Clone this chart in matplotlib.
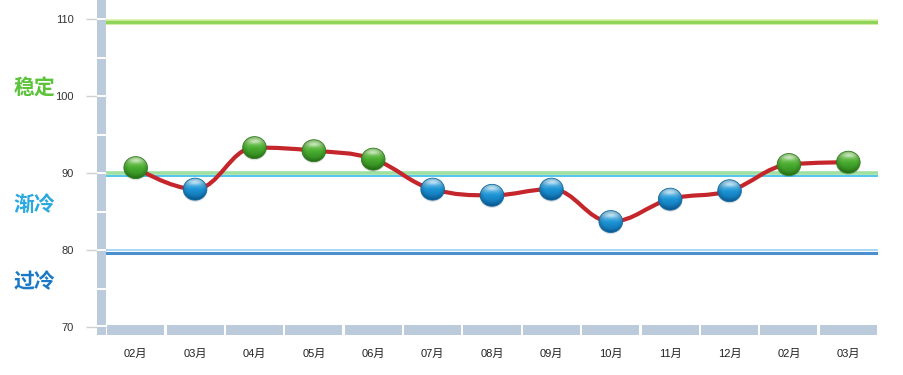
import numpy as np
import matplotlib
matplotlib.use("Agg")
import matplotlib.pyplot as plt
from matplotlib.path import Path
from matplotlib.patches import PathPatch, Rectangle, Ellipse
from matplotlib.colors import to_rgb
from matplotlib import transforms

# ---- data ----
months = ["02月", "03月", "04月", "05月", "06月", "07月", "08月", "09月",
          "10月", "11月", "12月", "02月", "03月"]
values = [90.7, 87.9, 93.3, 92.9, 91.8, 87.9, 87.1, 87.9, 83.7, 86.6, 87.7, 91.1, 91.4]
yticks = [70, 80, 90, 100, 110]
zone_labels = ["稳定", "渐冷", "过冷"]
threshold_stable = 90

W, H, DPI = 904, 375, 100
fig = plt.figure(figsize=(W / DPI, H / DPI), dpi=DPI)
fig.patch.set_facecolor("white")

PX_PER_UNIT = 7.7
y0_px = 327  # pixel row of 70
ymin = 70
ymax = 70 + y0_px / PX_PER_UNIT
ax_w_px = 878 - 106
ax = fig.add_axes([106 / W, (H - y0_px) / H, ax_w_px / W, y0_px / H])
xlim = (-0.5, len(months) - 0.5)
for s in ax.spines.values():
    s.set_visible(False)
ax.set_facecolor("white")

x = np.arange(len(months))
y = np.array(values, dtype=float)

# reference lines
ax.axhline(109.6, color="#d6f0a0", lw=4.0, zorder=1)
ax.axhline(109.6, color="#8fd45a", lw=2.4, zorder=1)
ax.axhline(90.0, color="#9fe0a0", lw=2.6, zorder=1)
ax.axhline(89.65, color="#45c0ea", lw=1.3, zorder=1)
ax.axhline(79.95, color="#a9d6f2", lw=1.4, zorder=1)
ax.axhline(79.55, color="#4a8fd0", lw=2.2, zorder=1)

# smooth spline (Highcharts-like) through the data points
def spline_path(xs, ys, smoothing=1.5):
    n = len(xs)
    left = [None] * n
    right = [None] * n
    for i in range(n):
        if i == 0 or i == n - 1:
            left[i] = (xs[i], ys[i])
            right[i] = (xs[i], ys[i])
            continue
        lx, ly = xs[i - 1], ys[i - 1]
        nx, ny = xs[i + 1], ys[i + 1]
        px, py = xs[i], ys[i]
        d = smoothing + 1
        lcx = (smoothing * px + lx) / d
        lcy = (smoothing * py + ly) / d
        rcx = (smoothing * px + nx) / d
        rcy = (smoothing * py + ny) / d
        corr = ((rcy - lcy) * (rcx - px)) / (rcx - lcx) + py - rcy
        lcy += corr
        rcy += corr
        if lcy > ly and lcy > py:
            lcy = max(ly, py); rcy = 2 * py - lcy
        elif lcy < ly and lcy < py:
            lcy = min(ly, py); rcy = 2 * py - lcy
        if rcy > ny and rcy > py:
            rcy = max(ny, py); lcy = 2 * py - rcy
        elif rcy < ny and rcy < py:
            rcy = min(ny, py); lcy = 2 * py - rcy
        left[i] = (lcx, lcy)
        right[i] = (rcx, rcy)
    verts = [(xs[0], ys[0])]
    codes = [Path.MOVETO]
    for i in range(1, n):
        verts += [right[i - 1], left[i], (xs[i], ys[i])]
        codes += [Path.CURVE4] * 3
    return Path(verts, codes)

ax.add_patch(PathPatch(spline_path(x, y), facecolor="none",
                       edgecolor="#c4262b", lw=3.0, capstyle="round",
                       joinstyle="round", zorder=3))

# glossy sphere markers (gradient image clipped to an ellipse)
px_per_x = ax_w_px / (xlim[1] - xlim[0])
rx = 11.8 / px_per_x
ry = 11.0 / PX_PER_UNIT

def sphere_img(top, mid, bot, n=64):
    top, mid, bot = map(np.array, map(to_rgb, (top, mid, bot)))
    t = np.linspace(0, 1, n)[:, None]  # 0 top -> 1 bottom
    col = np.where(t[..., None] < 0.5,
                   top + (mid - top) * (t[..., None] / 0.5),
                   mid + (bot - mid) * ((t[..., None] - 0.5) / 0.5))
    img = np.repeat(col, n, axis=1)
    # soft radial darkening to the rim
    u = np.linspace(-1, 1, n)
    X, Y = np.meshgrid(u, u)
    r = np.sqrt(X ** 2 + Y ** 2)
    shade = 1 - 0.18 * np.clip(r - 0.6, 0, 1) / 0.4
    img = img * shade[..., None]
    # top highlight
    hl = np.exp(-((X / 0.55) ** 2 + ((Y + 0.62) / 0.22) ** 2))
    img = img + (1 - img) * (0.55 * hl)[..., None]
    return np.clip(img, 0, 1)

imgs = {
    True: sphere_img("#a6dc88", "#4aae30", "#2a7f1b"),
    False: sphere_img("#a4d8f2", "#1d95d6", "#0c68a8"),
}
edges = {True: "#2f7d20", False: "#0e6aa6"}

for xi, yi in zip(x, y):
    g = bool(yi >= threshold_stable)
    # soft shadow
    sh = Ellipse((xi, yi - 1.2 / PX_PER_UNIT), 2 * rx * 1.04, 2 * ry * 1.04,
                 color="black", alpha=0.12, lw=0, zorder=4)
    ax.add_patch(sh)
    clip = Ellipse((xi, yi), 2 * rx, 2 * ry, transform=ax.transData,
                   facecolor="none", edgecolor=edges[g], lw=0.6, zorder=6)
    ax.add_patch(clip)
    im = ax.imshow(imgs[g], extent=(xi - rx, xi + rx, yi - ry, yi + ry),
                   aspect="auto", zorder=5, interpolation="bilinear")
    im.set_clip_path(clip)

ax.set_xlim(*xlim)
ax.set_ylim(ymin, ymax)

def pt(px):
    return px * 72.0 / DPI

# ticks
ax.set_yticks(yticks)
ax.set_yticklabels([str(t) for t in yticks], fontsize=8, family="Liberation Sans", color="#333333")
ax.tick_params(axis="y", length=pt(20), width=1.0, color="#d0d0d0", pad=pt(12))
ax.set_xticks(x)
ax.set_xticklabels(months, fontsize=8, family=["Liberation Sans", "Noto Sans CJK SC"], color="#222222")
ax.tick_params(axis="x", length=0, pad=pt(22))

# decorative frame bars (pixel overlay)
ov = fig.add_axes([0, 0, 1, 1], zorder=5)
ov.set_xlim(0, W)
ov.set_ylim(H, 0)
ov.axis("off")
ov.patch.set_alpha(0)
bar_col = "#bccbdb"
ov.add_patch(Rectangle((97, 0), 8.7, 335, color=bar_col, lw=0))
for t in np.arange(75, 112.5, 5):
    yy = y0_px - (t - 70) * PX_PER_UNIT
    ov.plot([97, 105.7], [yy, yy], color="white", lw=1.4, solid_capstyle="butt")
ov.plot([97, 105.7], [325.5, 325.5], color="white", lw=1.4, solid_capstyle="butt")
blend = transforms.blended_transform_factory(ax.transData, ov.transData)
for i in x:
    ov.add_patch(Rectangle((i - 0.5 + 0.02, 325), 0.96, 10, color=bar_col, lw=0,
                           transform=blend))

zone_colors = ["#5cc33a", "#2aa8e0", "#1a78c6"]
zone_px = [88, 204, 282]
for lab, col, yp in zip(zone_labels, zone_colors, zone_px):
    ov.text(34, yp, lab, fontsize=15, fontweight="bold", color=col,
            family=["Noto Sans CJK SC", "DejaVu Sans"], ha="center", va="center")

fig.savefig("out.png", dpi=DPI)
